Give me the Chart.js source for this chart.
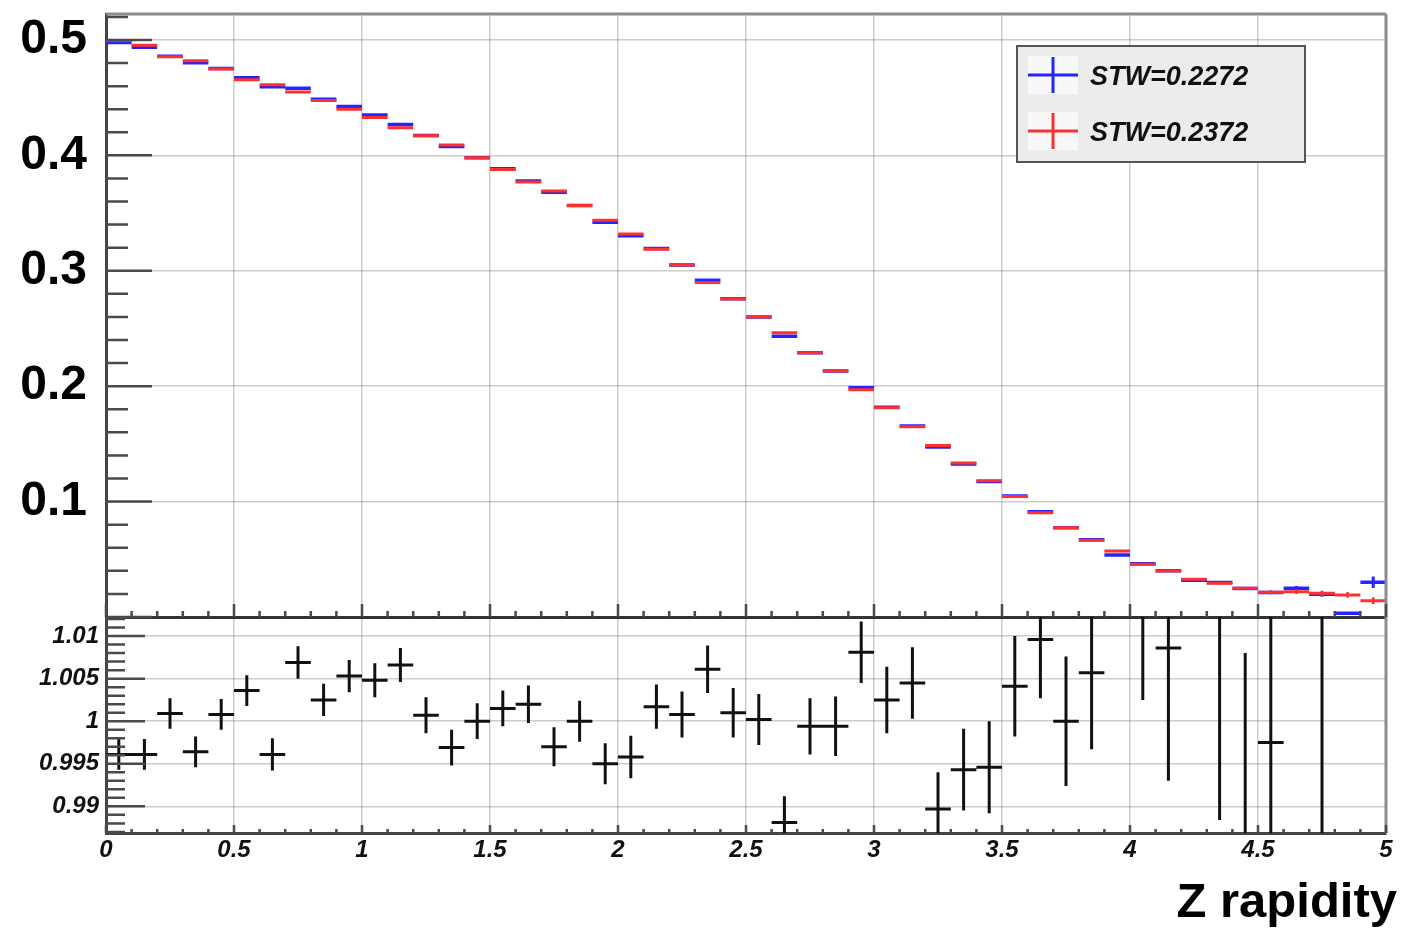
<!DOCTYPE html>
<html>
<head>
<meta charset="UTF-8">
<title>Z rapidity</title>
<script src="https://cdn.jsdelivr.net/npm/chart.js"></script>
<style>
  html, body { margin: 0; padding: 0; background: #fff; }
  #wrap { position: relative; width: 1404px; height: 931px; }
  #top { position: absolute; left: 0; top: 0; }
  #ratio { position: absolute; left: 0; top: 612px; }
</style>
</head>
<body>
<div id="wrap">
  <canvas id="top" width="1404" height="620"></canvas>
  <canvas id="ratio" width="1404" height="319"></canvas>
</div>
<script>
// histogram bins in Z rapidity
var binEdges = [0.0, 0.1, 0.2, 0.3, 0.4, 0.5, 0.6, 0.7, 0.8, 0.9,
                1.0, 1.1, 1.2, 1.3, 1.4, 1.5, 1.6, 1.7, 1.8, 1.9,
                2.0, 2.1, 2.2, 2.3, 2.4, 2.5, 2.6, 2.7, 2.8, 2.9,
                3.0, 3.1, 3.2, 3.3, 3.4, 3.5, 3.6, 3.7, 3.8, 3.9,
                4.0, 4.1, 4.2, 4.3, 4.4, 4.5, 4.6, 4.7, 4.8, 4.9, 5.0];

var seriesNames = ['STW=0.2272', 'STW=0.2372'];

// normalised distributions
var stw2272 = [0.4977, 0.4936, 0.4859, 0.4803, 0.4753, 0.4672, 0.4594, 0.4581, 0.4486, 0.4423,
               0.4349, 0.4268, 0.4173, 0.4077, 0.3980, 0.3884, 0.3777, 0.3681, 0.3565, 0.3420,
               0.3304, 0.3192, 0.3051, 0.2917, 0.2758, 0.2600, 0.2433, 0.2289, 0.2131, 0.1986,
               0.1818, 0.1655, 0.1472, 0.1326, 0.1174, 0.1049, 0.0912, 0.0774, 0.0670, 0.0538,
               0.0462, 0.0401, 0.0318, 0.0298, 0.0246, 0.0213, 0.0249, 0.0197, 0.0032, 0.0301];
var stw2272Err = [0.0004, 0.0004, 0.0004, 0.0004, 0.0004, 0.0004, 0.0004, 0.0004, 0.0004, 0.0004,
                  0.0004, 0.0004, 0.0004, 0.0004, 0.0004, 0.0004, 0.0004, 0.0004, 0.0004, 0.0004,
                  0.0004, 0.0004, 0.0004, 0.0004, 0.0004, 0.0004, 0.0004, 0.0004, 0.0004, 0.0004,
                  0.0005, 0.0005, 0.0005, 0.0005, 0.0005, 0.0005, 0.0005, 0.0005, 0.0005, 0.0005,
                  0.0005, 0.0006, 0.0006, 0.0007, 0.0008, 0.0015, 0.0020, 0.0022, 0.0010, 0.0050];

var stw2372 = [0.4995, 0.4955, 0.4855, 0.4820, 0.4749, 0.4655, 0.4612, 0.4550, 0.4475, 0.4400,
               0.4328, 0.4240, 0.4170, 0.4090, 0.3980, 0.3878, 0.3770, 0.3692, 0.3565, 0.3437,
               0.3318, 0.3187, 0.3049, 0.2899, 0.2755, 0.2600, 0.2462, 0.2290, 0.2132, 0.1970,
               0.1813, 0.1648, 0.1487, 0.1334, 0.1180, 0.1045, 0.0903, 0.0774, 0.0666, 0.0572,
               0.0456, 0.0398, 0.0327, 0.0292, 0.0250, 0.0214, 0.0219, 0.0205, 0.0191, 0.0141];
var stw2372Err = [0.0004, 0.0004, 0.0004, 0.0004, 0.0004, 0.0004, 0.0004, 0.0004, 0.0004, 0.0004,
                  0.0004, 0.0004, 0.0004, 0.0004, 0.0004, 0.0004, 0.0004, 0.0004, 0.0004, 0.0004,
                  0.0004, 0.0004, 0.0004, 0.0004, 0.0004, 0.0004, 0.0004, 0.0004, 0.0004, 0.0004,
                  0.0005, 0.0005, 0.0005, 0.0005, 0.0005, 0.0005, 0.0005, 0.0005, 0.0005, 0.0005,
                  0.0005, 0.0006, 0.0006, 0.0007, 0.0008, 0.0015, 0.0020, 0.0022, 0.0025, 0.0030];

// ratio STW=0.2272 / STW=0.2372
var ratio = [0.9961, 0.9961, 1.0009, 0.9964, 1.0008, 1.0036, 0.9961, 1.0069, 1.0025, 1.0053,
             1.0048, 1.0066, 1.0007, 0.9969, 1.0000, 1.0015, 1.0020, 0.9970, 1.0000, 0.9950,
             0.9958, 1.0017, 1.0008, 1.0061, 1.0010, 1.0002, 0.9881, 0.9994, 0.9994, 1.0081,
             1.0025, 1.0045, 0.9897, 0.9943, 0.9946, 1.0041, 1.0096, 1.0000, 1.0057, 0.9406,
             1.0135, 1.0086, 0.9725, 1.0200, 0.9830, 0.9975, 1.1370, 0.9610, 0.1680, 2.1350];
var ratioErr = [0.0018, 0.0018, 0.0018, 0.0018, 0.0018, 0.0018, 0.0019, 0.0019, 0.0019, 0.0019,
                0.0020, 0.0020, 0.0021, 0.0021, 0.0021, 0.0021, 0.0022, 0.0023, 0.0024, 0.0024,
                0.0025, 0.0026, 0.0027, 0.0028, 0.0029, 0.0030, 0.0031, 0.0033, 0.0035, 0.0036,
                0.0039, 0.0042, 0.0043, 0.0048, 0.0054, 0.0059, 0.0069, 0.0076, 0.0090, 0.0100,
                0.0110, 0.0156, 0.0130, 0.0316, 0.0250, 0.0200, 0.0300, 0.0600, 0.1000, 0.4000];

var BLUE = '#2424ff';
var RED = '#ff3030';
var FONT = '"Liberation Sans", Arial, Helvetica, sans-serif';

// horizontal bar over each bin, broken between bins
function binBars(vals) {
  var pts = [];
  for (var i = 0; i < vals.length; i++) {
    pts.push({x: binEdges[i], y: vals[i]});
    pts.push({x: binEdges[i + 1], y: vals[i]});
    pts.push({x: binEdges[i + 1], y: null});
  }
  return pts;
}

// vertical error bar at each bin centre
function errBars(vals, errs) {
  var pts = [];
  for (var i = 0; i < vals.length; i++) {
    var c = (binEdges[i] + binEdges[i + 1]) / 2;
    pts.push({x: c, y: vals[i] - errs[i]});
    pts.push({x: c, y: vals[i] + errs[i]});
    pts.push({x: c, y: null});
  }
  return pts;
}

function trimNum(v, d) { return String(+v.toFixed(d)); }

// fixed axis boxes so both pads line up
function fixY(s) {
  s.width = 106;
  s.paddingTop = 0;
  s.paddingBottom = 0;
}
function fixX(h) {
  return function(s) {
    s.height = h;
    s.paddingLeft = 0;
    s.paddingRight = 0;
  };
}

// ROOT style tick marks and frame
var rootFrame = {
  id: 'rootFrame',
  afterDraw: function(chart, args, o) {
    var ctx = chart.ctx, a = chart.chartArea;
    var xs = chart.scales.x, ys = chart.scales.y;
    ctx.save();
    ctx.lineCap = 'butt';
    // right (and top) frame
    ctx.strokeStyle = '#8c8c8c';
    ctx.lineWidth = 3;
    ctx.beginPath();
    if (o.topFrame) {
      ctx.moveTo(a.left, a.top);
      ctx.lineTo(a.right, a.top);
    }
    ctx.moveTo(a.right, a.top);
    ctx.lineTo(a.right, a.bottom);
    ctx.stroke();

    ctx.strokeStyle = '#4a4a4a';
    ctx.lineWidth = 2.5;
    ctx.beginPath();
    var k0 = Math.ceil(ys.min / o.yMinor - 1e-6), k1 = Math.floor(ys.max / o.yMinor + 1e-6);
    for (var k = k0; k <= k1; k++) {
      var py = ys.getPixelForValue(k * o.yMinor);
      var len = (k % o.yPer === 0) ? o.yMajorLen : o.yMinorLen;
      ctx.moveTo(a.left, py);
      ctx.lineTo(a.left + len, py);
    }
    var j0 = Math.ceil(xs.min / o.xMinor - 1e-6), j1 = Math.floor(xs.max / o.xMinor + 1e-6);
    for (var j = j0; j <= j1; j++) {
      var px = xs.getPixelForValue(j * o.xMinor);
      var l = (j % o.xPer === 0) ? o.xMajorLen : o.xMinorLen;
      ctx.moveTo(px, a.bottom);
      ctx.lineTo(px, a.bottom - l);
    }
    ctx.stroke();
    ctx.restore();
  }
};

// legend box with cross markers
var rootLegend = {
  id: 'rootLegend',
  afterDraw: function(chart, args, o) {
    if (!o.show) return;
    var ctx = chart.ctx;
    ctx.save();
    ctx.fillStyle = '#ececec';
    ctx.fillRect(o.x, o.y, o.w, o.h);
    ctx.strokeStyle = '#555';
    ctx.lineWidth = 2;
    ctx.strokeRect(o.x, o.y, o.w, o.h);
    var entries = chart.data.datasets.filter(function(d) { return d.label; });
    entries.forEach(function(d, i) {
      var cy = o.rowY[i];
      ctx.fillStyle = '#f8f8f8';
      ctx.fillRect(o.mx - 25, cy - 19, 50, 38);
      ctx.strokeStyle = d.borderColor;
      ctx.lineWidth = 3;
      ctx.beginPath();
      ctx.moveTo(o.mx - 25, cy);
      ctx.lineTo(o.mx + 25, cy);
      ctx.moveTo(o.mx, cy - 18);
      ctx.lineTo(o.mx, cy + 18);
      ctx.stroke();
      ctx.fillStyle = '#111';
      ctx.font = 'italic bold 27px ' + FONT;
      ctx.textAlign = 'left';
      ctx.textBaseline = 'middle';
      ctx.fillText(d.label, o.tx, cy + 3);
    });
    ctx.restore();
  }
};

// x axis title at the lower right
var axisTitle = {
  id: 'axisTitle',
  afterDraw: function(chart, args, o) {
    if (!o.text) return;
    var ctx = chart.ctx;
    ctx.save();
    ctx.fillStyle = '#000';
    ctx.font = 'bold 49px ' + FONT;
    ctx.textAlign = 'right';
    ctx.textBaseline = 'alphabetic';
    ctx.fillText(o.text, o.x, o.y);
    ctx.restore();
  }
};

var gridColor = 'rgba(0,0,0,0.2)';

function lineSet(label, data, color, width, order) {
  return {label: label, data: data, borderColor: color, borderWidth: width,
          pointRadius: 0, spanGaps: false, tension: 0, order: order, clip: 0};
}

// upper pad: the two distributions
new Chart(document.getElementById('top'), {
  type: 'line',
  data: {
    datasets: [
      lineSet(seriesNames[0], binBars(stw2272), BLUE, 3.5, 1),
      lineSet('', errBars(stw2272, stw2272Err), BLUE, 3, 1),
      lineSet(seriesNames[1], binBars(stw2372), RED, 3, 0),
      lineSet('', errBars(stw2372, stw2372Err), RED, 2.5, 0)
    ]
  },
  options: {
    responsive: false,
    animation: false,
    events: [],
    layout: {padding: {top: 14, right: 18, left: 0, bottom: 0}},
    scales: {
      x: {
        type: 'linear', min: 0, max: 5,
        ticks: {display: false, stepSize: 0.5},
        grid: {color: gridColor, lineWidth: 1.5, drawTicks: false},
        border: {display: true, color: '#333', width: 3},
        afterFit: fixX(3)
      },
      y: {
        min: 0, max: 0.5225,
        ticks: {
          stepSize: 0.1, includeBounds: false, padding: 19, color: '#000',
          font: {family: FONT, size: 48, weight: 'bold'},
          callback: function(v) { return v === 0 ? '' : trimNum(v, 1); }
        },
        grid: {color: gridColor, lineWidth: 1.5, drawTicks: false},
        border: {display: true, color: '#444', width: 3},
        afterFit: fixY
      }
    },
    plugins: {
      legend: {display: false},
      tooltip: {enabled: false},
      rootFrame: {topFrame: true, yMinor: 0.02, yPer: 5, yMajorLen: 46, yMinorLen: 22,
                  xMinor: 0.1, xPer: 5, xMajorLen: 13, xMinorLen: 6},
      rootLegend: {show: true, x: 1017, y: 46, w: 288, h: 116, mx: 1053, tx: 1090, rowY: [75, 131]}
    }
  },
  plugins: [rootFrame, rootLegend]
});

// lower pad: ratio of the two distributions
new Chart(document.getElementById('ratio'), {
  type: 'line',
  data: {
    datasets: [
      lineSet('', binBars(ratio), '#111', 3, 0),
      lineSet('', errBars(ratio, ratioErr), '#111', 3, 0)
    ]
  },
  options: {
    responsive: false,
    animation: false,
    events: [],
    layout: {padding: {top: 5, right: 18, left: 0, bottom: 0}},
    scales: {
      x: {
        type: 'linear', min: 0, max: 5,
        ticks: {
          stepSize: 0.5, padding: 3, color: '#111', maxRotation: 0,
          font: {family: FONT, size: 24, weight: 'bold', style: 'italic'},
          callback: function(v) { return trimNum(v, 1); }
        },
        grid: {color: gridColor, lineWidth: 1.5, drawTicks: false},
        border: {display: true, color: '#444', width: 3},
        afterFit: fixX(98)
      },
      y: {
        min: 0.98687, max: 1.01224,
        ticks: {
          stepSize: 0.005, includeBounds: false, padding: 7, color: '#111',
          font: {family: FONT, size: 24, weight: 'bold', style: 'italic'},
          callback: function(v) { return trimNum(v, 3); }
        },
        grid: {color: gridColor, lineWidth: 1.5, drawTicks: false},
        border: {display: true, color: '#444', width: 3},
        afterFit: fixY
      }
    },
    plugins: {
      legend: {display: false},
      tooltip: {enabled: false},
      rootFrame: {topFrame: false, yMinor: 0.001, yPer: 5, yMajorLen: 39, yMinorLen: 19,
                  xMinor: 0.1, xPer: 5, xMajorLen: 8, xMinorLen: 4},
      rootLegend: {show: false},
      axisTitle: {text: 'Z rapidity', x: 1397, y: 305}
    }
  },
  plugins: [rootFrame, rootLegend, axisTitle]
});
</script>
</body>
</html>
